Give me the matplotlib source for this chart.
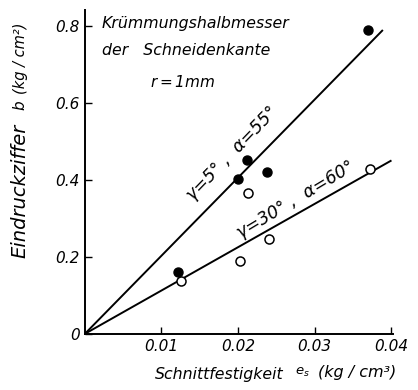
import numpy as np
import matplotlib.pyplot as plt

plt.rcParams['font.family'] = ['DejaVu Sans']
plt.rcParams['font.style'] = 'italic'

# measured points: filled (gamma=5, alpha=55), open (gamma=30, alpha=60)
es_filled = [0.0122, 0.0200, 0.0211, 0.0238, 0.0370]
b_filled = [0.161, 0.403, 0.452, 0.421, 0.790]
es_open = [0.0125, 0.0202, 0.0213, 0.0240, 0.0372]
b_open = [0.136, 0.190, 0.366, 0.246, 0.428]

# fitted lines through the origin
slope_upper = 20.3
slope_lower = 11.26
x_upper = [0.0, 0.0388]
x_lower = [0.0, 0.0399]

W, H = 418, 390
fig = plt.figure(figsize=(W / 100, H / 100), dpi=100)
ax = fig.add_axes([0.203, 0.144, 0.737, 0.831])

ax.plot(x_upper, [slope_upper * x for x in x_upper], color='black', lw=1.4)
ax.plot(x_lower, [slope_lower * x for x in x_lower], color='black', lw=1.4)
ax.plot(es_filled, b_filled, 'o', color='black', ms=6.5)
ax.plot(es_open, b_open, 'o', mfc='white', mec='black', mew=1.1, ms=6.5)

ax.set_xlim(0, 0.0402)
ax.set_ylim(0, 0.842)
ax.set_xticks([0.01, 0.02, 0.03, 0.04])
ax.set_xticklabels(['0.01', '0.02', '0.03', '0.04'])
ax.set_yticks([0, 0.2, 0.4, 0.6, 0.8])
ax.set_yticklabels(['0', '0.2', '0.4', '0.6', '0.8'])
ax.tick_params(direction='in', length=5, width=1, labelsize=11)
for s in ['top', 'right']:
    ax.spines[s].set_visible(False)
for s in ['left', 'bottom']:
    ax.spines[s].set_linewidth(1.4)

# axis labels, built from pieces like the original
fig.text(155 / W, 1 - 374 / H, 'Schnittfestigkeit', fontsize=11.3, ha='left', va='center')
fig.text(302 / W, 1 - 372 / H, r'$e_s$', fontsize=9.5, ha='center', va='center')
fig.text(318 / W, 1 - 372 / H, '(kg / cm³)', fontsize=11.5, ha='left', va='center')

fig.text(20 / W, 1 - 191 / H, 'Eindruckziffer', fontsize=14, rotation=90, ha='center', va='center')
fig.text(20 / W, 1 - 106 / H, r'$b$', fontsize=11, rotation=90, ha='center', va='center')
fig.text(20 / W, 1 - 58 / H, '(kg / cm²)', fontsize=10.5, rotation=90, ha='center', va='center')

# annotations
ax.text(0.0022, 0.805, 'Krümmungshalbmesser', fontsize=11.3, va='center')
ax.text(0.0022, 0.735, 'der   Schneidenkante', fontsize=11.3, va='center')
ax.text(0.0085, 0.655, r'$r=1$mm', fontsize=11, va='center')

ax.text(0.0192, 0.468, 'γ=5° ,  α=55°', fontsize=12.5, rotation=46,
        rotation_mode='anchor', ha='center', va='center')
ax.text(0.0275, 0.348, 'γ=30° ,  α=60°', fontsize=12.5, rotation=31,
        rotation_mode='anchor', ha='center', va='center')

fig.savefig('out.png', dpi=100)
